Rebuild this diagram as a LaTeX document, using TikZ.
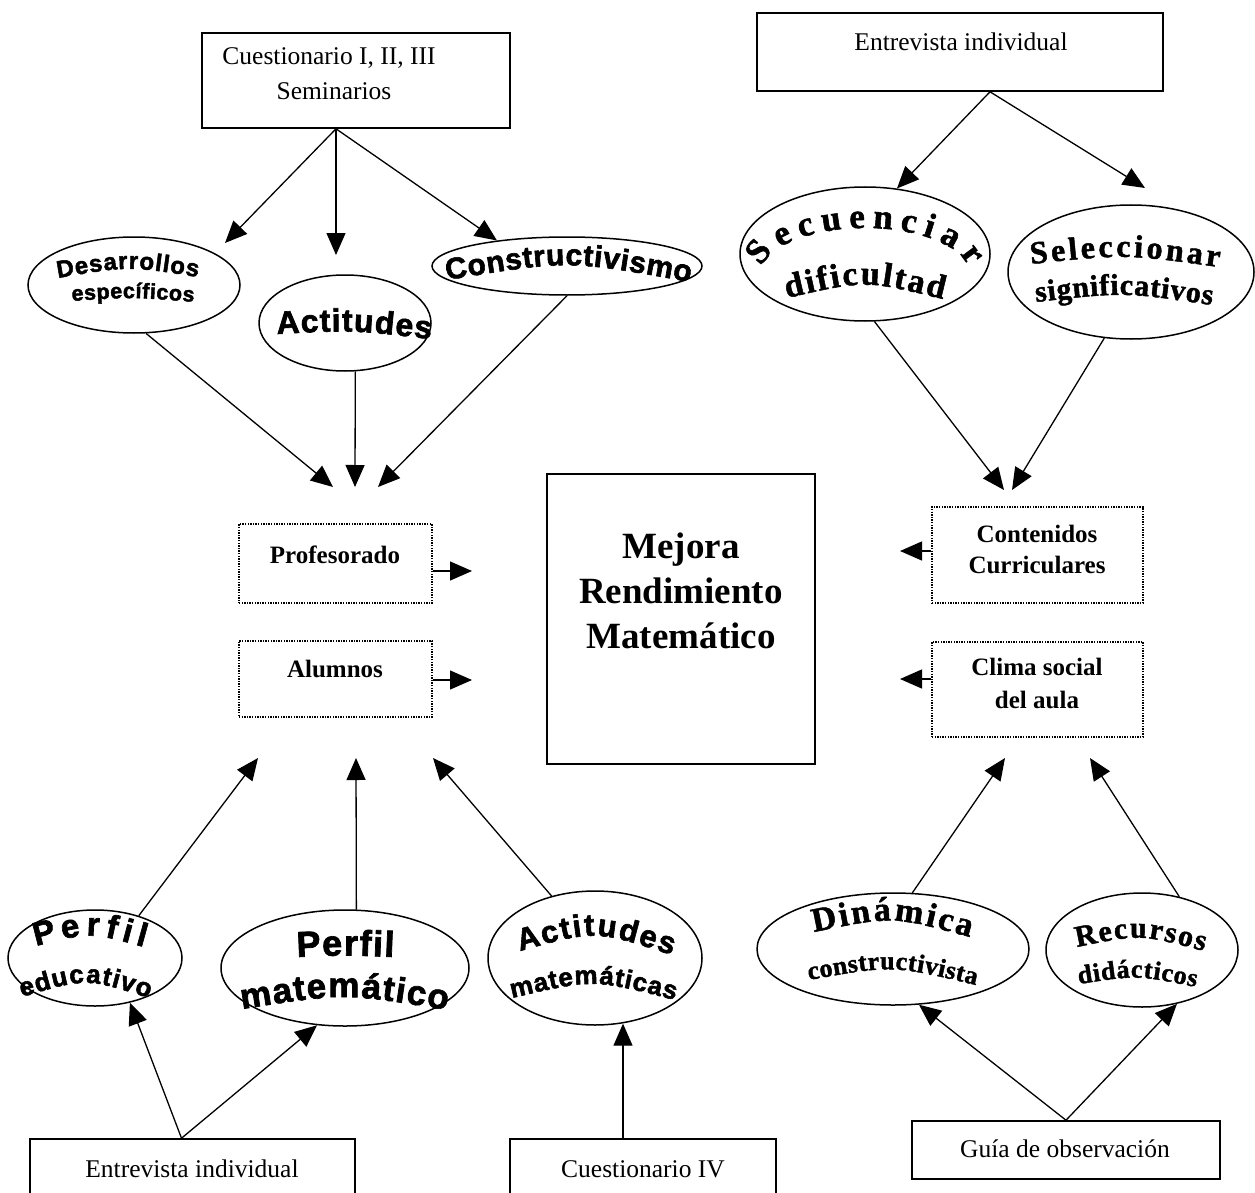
\documentclass[tikz,border=0pt]{standalone}
\usepackage{fontspec}
\setmainfont{Liberation Serif}
\newfontfamily\wsans{Liberation Sans}[BoldFeatures={FakeBold=2}]
\newfontfamily\wserif{Liberation Serif}[BoldFeatures={FakeBold=1.5}]
\usetikzlibrary{arrows.meta,shapes.geometric,decorations.text}
\newcommand\WS[1]{\wsans\bfseries\fontsize{#1}{#1}\selectfont}
\newcommand\WR[1]{\wserif\bfseries\fontsize{#1}{#1}\selectfont}
\newcommand\wart[3]{\path[decorate,decoration={text along path,text={|#2|#3},text align=fit to path}] #1;}
\tikzset{
  srcbox/.style={draw, line width=1.6pt, rectangle, inner sep=0pt},
  dotbox/.style={draw, line width=1.4pt, dash pattern=on 1.4pt off 1.2pt, rectangle, inner sep=0pt},
  oval/.style={draw, line width=1.5pt, ellipse, inner sep=0pt},
  arr/.style={line width=1.3pt, -{Triangle[length=22pt,width=19pt]}},
  lbl/.style={anchor=base, inner sep=0pt, font=\fontsize{25.5}{25.5}\selectfont},
  blbl/.style={anchor=base, inner sep=0pt, font=\bfseries\fontsize{25}{25}\selectfont},
  mlbl/.style={anchor=base, inner sep=0pt, font=\bfseries\fontsize{37}{37}\selectfont},
}
\begin{document}
\begin{tikzpicture}[x=1pt,y=1pt]
\fill[white] (0,-1193) rectangle (1255,0);
\useasboundingbox (0,-1193) rectangle (1255,0);

% ---------- boxes ----------
\node[srcbox, minimum width=308pt, minimum height=95pt] (qA) at (356,-80.5) {};
\node[lbl] (qAt1) at (329,-65) {Cuestionario I, II, III};
\node[lbl] (qAt2) at (334,-100) {Seminarios};

\node[srcbox, minimum width=406pt, minimum height=78pt] (eiT) at (960,-52) {};
\node[lbl] (eiTt) at (961,-51) {Entrevista individual};

\node[dotbox, minimum width=193pt, minimum height=79pt] (prof) at (335.5,-563.5) {};
\node[blbl] (proft) at (335,-563) {Profesorado};
\node[dotbox, minimum width=193pt, minimum height=76pt] (alu) at (335.5,-679) {};
\node[blbl] (alut) at (335,-677) {Alumnos};

\node[dotbox, minimum width=211pt, minimum height=96pt] (cont) at (1037.5,-555) {};
\node[blbl] (contt1) at (1037,-542) {Contenidos};
\node[blbl] (contt2) at (1037,-573) {Curriculares};
\node[dotbox, minimum width=211pt, minimum height=95pt] (clim) at (1037.5,-689.5) {};
\node[blbl] (climt1) at (1037,-675) {Clima social};
\node[blbl] (climt2) at (1037,-708) {del aula};

\node[srcbox, minimum width=268pt, minimum height=290pt] (mej) at (681,-619) {};
\node[mlbl] (mejt1) at (681,-558) {Mejora};
\node[mlbl] (mejt2) at (681,-603) {Rendimiento};
\node[mlbl] (mejt3) at (681,-648) {Matemático};

\node[srcbox, minimum width=325pt, minimum height=76pt] (eiB) at (192.5,-1177) {};
\node[lbl] (eiBt) at (192,-1177) {Entrevista individual};
\node[srcbox, minimum width=266pt, minimum height=76pt] (cIV) at (643,-1177) {};
\node[lbl] (cIVt) at (643,-1177) {Cuestionario IV};
\node[srcbox, minimum width=308pt, minimum height=58pt] (guia) at (1066,-1150) {};
\node[lbl] (guiat) at (1065,-1157) {Guía de observación};

% ---------- ellipses ----------
\node[oval, minimum width=212pt, minimum height=96pt] (des) at (134,-285) {};
\node[oval, minimum width=172pt, minimum height=96pt] (act) at (345,-323) {};
\node[oval, minimum width=270pt, minimum height=58pt] (con) at (567,-266) {};
\node[oval, minimum width=250pt, minimum height=134pt] (sec) at (865,-254) {};
\node[oval, minimum width=246pt, minimum height=134pt] (sel) at (1131,-272) {};
\node[oval, minimum width=174pt, minimum height=96pt] (pe) at (95,-958) {};
\node[oval, minimum width=248pt, minimum height=116pt] (pm) at (345,-968) {};
\node[oval, minimum width=214pt, minimum height=134pt] (am) at (595,-958) {};
\node[oval, minimum width=272pt, minimum height=112pt] (din) at (893,-949) {};
\node[oval, minimum width=192pt, minimum height=114pt] (rec) at (1142,-950) {};

% ---------- word art ----------
\wart{(58,-278) .. controls (128,-266) .. (198,-277)}{\WS{24}}{Desarrollos}
\wart{(72,-301) .. controls (133,-297) .. (194,-302)}{\WS{21.5}}{específicos}
\wart{(277,-334) .. controls (352,-330) .. (431,-339)}{\WS{32}}{Actitudes}
\wart{(447,-280) .. controls (568,-260) .. (690,-282)}{\WS{30}}{Constructivismo}
\wart{(761.6,-266.8) arc[start angle=170, end angle=10, x radius=105, y radius=47]}{\WR{35}}{Secuenciar}
\wart{(787,-298) .. controls (865,-280) .. (943,-299)}{\WR{34}}{dificultad}
\wart{(1031,-264) .. controls (1125,-254) .. (1219,-267)}{\WR{32}}{Seleccionar}
\wart{(1036,-302) .. controls (1124,-292) .. (1212,-305)}{\WR{30}}{significativos}
\wart{(36,-946) .. controls (90,-932) .. (144,-947)}{\WS{33}}{Perfil}
\wart{(22,-997) .. controls (86,-978) .. (149,-998)}{\WS{26}}{educativo}
\wart{(297,-957) .. controls (345,-955) .. (394,-957)}{\WS{36}}{Perfil}
\wart{(242,-1009) .. controls (344,-993) .. (447,-1010)}{\WS{35}}{matemático}
\wart{(520,-951) .. controls (595,-930) .. (672,-955)}{\WS{31}}{Actitudes}
\wart{(512,-998) .. controls (593,-979) .. (675,-1000)}{\WS{26}}{matemáticas}
\wart{(814,-932) .. controls (892,-916) .. (970,-937)}{\WR{34}}{Dinámica}
\wart{(809,-980) .. controls (892,-965) .. (976,-985)}{\WR{26}}{constructivista}
\wart{(1077,-947) .. controls (1140,-934) .. (1204,-951)}{\WR{30}}{Recursos}
\wart{(1079,-984) .. controls (1137,-975) .. (1196,-987)}{\WR{26}}{didácticos}

% ---------- free arrow ends ----------
\coordinate (qAo) at ([xshift=-20pt]qA.south);
\coordinate (eiTo) at ([xshift=30pt]eiT.south);
\coordinate (eiBo) at ([xshift=-11pt]eiB.north);
\coordinate (cIVo) at ([xshift=-20pt]cIV.north);
\coordinate (tDes) at (225,-243);
\coordinate (tAct) at (336,-255);
\coordinate (tP1) at (333,-487);
\coordinate (tP2) at (355,-487);
\coordinate (tP3) at (378,-487);
\coordinate (tM1) at (472,-571);
\coordinate (tM2) at (472,-680);
\coordinate (tM3) at (900,-551);
\coordinate (tM4) at (900,-679);
\coordinate (tSel) at (1145,-188);
\coordinate (tC1) at (1004,-490);
\coordinate (tC2) at (1012,-490);
\coordinate (tA1) at (258,-758);
\coordinate (tA2) at (356,-758);
\coordinate (tA3) at (433,-758);
\coordinate (tR1) at (1005,-758);
\coordinate (tR2) at (1090,-758);

% ---------- connectors ----------
\draw[arr] (qAo) -- (tDes);
\draw[arr] (qAo) -- (tAct);
\draw[arr] (qAo) -- (con.160);
\draw[arr] (des.-76) -- (tP1);
\draw[arr] (act.-78) -- (tP2);
\draw[arr] (con.south) -- (tP3);
\draw[arr] ([yshift=-7.5pt]prof.east) -- (tM1);
\draw[arr] ([yshift=-1pt]alu.east) -- (tM2);
\draw[arr] ([yshift=4pt]cont.west) -- (tM3);
\draw[arr] ([yshift=10.5pt]clim.west) -- (tM4);
\draw[arr] (eiTo) -- (sec.64);
\draw[arr] (eiTo) -- (tSel);
\draw[arr] (sec.-82) -- (tC1);
\draw[arr] (sel.-112) -- (tC2);
\draw[arr] (pe.44) -- (tA1);
\draw[arr] (pm.79) -- (tA2);
\draw[arr] (am.125) -- (tA3);
\draw[arr] (eiBo) -- (pe.-52);
\draw[arr] (eiBo) -- (pm.-116);
\draw[arr] (cIVo) -- (cIVo |- am.-68);
\draw[arr] (din.71) -- (tR1);
\draw[arr] (rec.55) -- (tR2);
\draw[arr] (guia.north) -- (din.-65);
\draw[arr] (guia.north) -- (rec.-57);
\end{tikzpicture}
\end{document}
